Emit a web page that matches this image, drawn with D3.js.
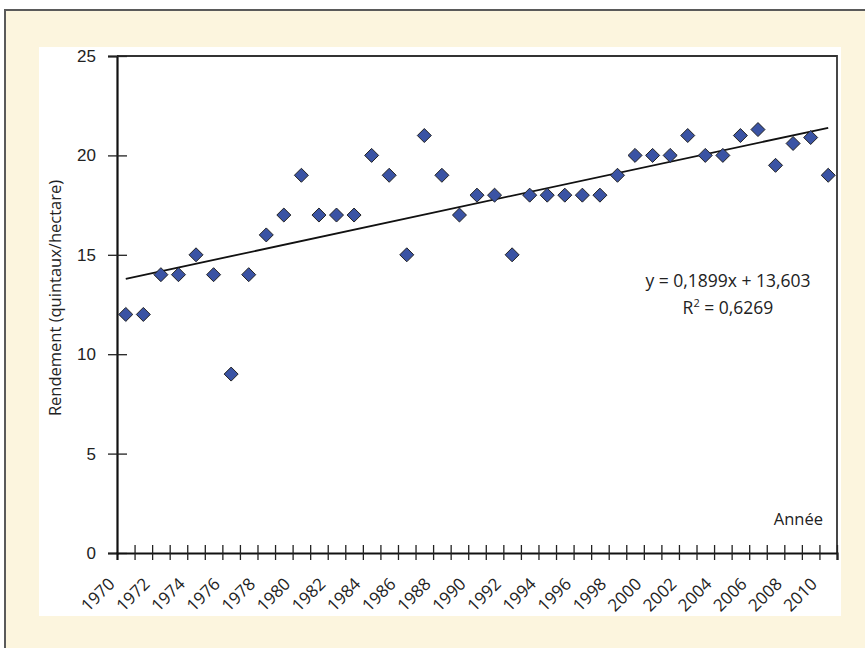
<!DOCTYPE html>
<html>
  <head>
    <title>Rendement</title>
    <style>
      body { margin: 0; background: #ffffff; }
      svg { font-family: "Open Sans", sans-serif; }
      .tick-label { font-size: 17px; fill: #222; }
      .axis-title { font-size: 16.5px; fill: #222; }
      .equation { font-size: 17.5px; fill: #222; }
    </style>
    <script src="https://d3js.org/d3.v7.min.js"></script>
  </head>
  <body>
    <div id="chart"></div>
    <script>
// data
var years = d3.range(1970, 2011);
var yields = [12, 12, 14, 14, 15, 14, 9, 14, 16, 17,
              19, 17, 17, 17, 20, 19, 15, 21, 19, 17,
              18, 18, 15, 18, 18, 18, 18, 18, 19, 20,
              20, 20, 21, 20, 20, 21, 21.3, 19.5, 20.6, 20.9,
              19];
var yTicks = [0, 5, 10, 15, 20, 25];
var labelYears = d3.range(1970, 2011, 2);
var trendSlope = 0.1899;
var trendIntercept = 13.603;
var equationLines = ["y = 0,1899x + 13,603", "R2 = 0,6269"];

var width = 865, height = 648;
var plot = {left: 117, right: 837, top: 56, bottom: 553};

var svg = d3.select("#chart").append("svg")
  .attr("width", width)
  .attr("height", height);

// background boxes
svg.append("rect")
  .attr("x", 5).attr("y", 10)
  .attr("width", width + 10).attr("height", height + 10)
  .attr("fill", "#fcf5de")
  .attr("stroke", "#5a5a5a")
  .attr("stroke-width", 2);

svg.append("rect")
  .attr("x", 39).attr("y", 47)
  .attr("width", 802).attr("height", 569)
  .attr("fill", "#ffffff");

// scales
var x = d3.scaleBand()
  .domain(years)
  .range([plot.left, plot.right])
  .padding(0);

var y = d3.scaleLinear()
  .domain([0, 25])
  .range([plot.bottom, plot.top]);

var cx = d => x(d) + x.bandwidth() / 2;

// plot frame (top and right)
svg.append("path")
  .attr("d", `M${plot.left},${plot.top}H${plot.right}V${plot.bottom}`)
  .attr("fill", "none")
  .attr("stroke", "#333")
  .attr("stroke-width", 1.8);

// y axis
var yAxis = d3.axisLeft(y).tickValues(yTicks).tickSize(9).tickPadding(12);
var gy = svg.append("g")
  .attr("transform", `translate(${plot.left},0)`)
  .call(yAxis);
gy.select(".domain").attr("stroke", "#111").attr("stroke-width", 2.2);
gy.selectAll(".tick line").attr("x2", -9).attr("x1", 10).attr("stroke", "#222").attr("stroke-width", 1.3);
gy.selectAll(".tick text").attr("class", "tick-label").attr("font-size", null).attr("font-family", null);

// x axis: ticks between categories
var edge = d3.scaleLinear().domain([0, years.length]).range([plot.left, plot.right]);
var xAxis = d3.axisBottom(edge).tickValues(d3.range(1, years.length + 1)).tickSize(7).tickFormat("");
var gx = svg.append("g")
  .attr("transform", `translate(0,${plot.bottom})`)
  .call(xAxis);
gx.select(".domain").attr("stroke", "#111").attr("stroke-width", 2.2);
gx.selectAll(".tick line").attr("y1", -8).attr("stroke", "#222").attr("stroke-width", 1.3);

svg.append("g").selectAll("text")
  .data(labelYears).enter()
  .append("text")
  .attr("class", "tick-label")
  .attr("text-anchor", "end")
  .attr("transform", d => `translate(${cx(d) - 10},${plot.bottom + 32}) rotate(-45)`)
  .text(d => d);

// y axis title
svg.append("text")
  .attr("class", "axis-title")
  .attr("text-anchor", "middle")
  .attr("transform", `translate(61,298) rotate(-90)`)
  .text("Rendement (quintaux/hectare)");

// x axis title
svg.append("text")
  .attr("class", "axis-title")
  .attr("text-anchor", "end")
  .attr("x", 823).attr("y", 525)
  .text("Année");

// trend line
var line = d3.line()
  .x(d => cx(d))
  .y(d => y(trendSlope * (d - 1969) + trendIntercept));

svg.append("path")
  .datum([years[0], years[years.length - 1]])
  .attr("d", line)
  .attr("fill", "none")
  .attr("stroke", "#111")
  .attr("stroke-width", 1.8);

// diamond markers
var diamond = d3.symbol().type(d3.symbolDiamond2).size(125);
svg.append("g").selectAll("path")
  .data(years).enter()
  .append("path")
  .attr("d", diamond)
  .attr("transform", (d, i) => `translate(${cx(d)},${y(yields[i])})`)
  .attr("fill", "#3a53a4")
  .attr("stroke", "#222")
  .attr("stroke-width", 1);

// equation
var eq = svg.append("g").attr("class", "equation");
eq.append("text")
  .attr("text-anchor", "middle")
  .attr("x", 728).attr("y", 287)
  .text(equationLines[0]);
var r2 = eq.append("text")
  .attr("text-anchor", "middle")
  .attr("x", 728).attr("y", 314);
r2.append("tspan").text("R");
r2.append("tspan").attr("dy", -7).attr("font-size", "11px").text("2");
r2.append("tspan").attr("dy", 7).text(" = 0,6269");
    </script>
  </body>
</html>
